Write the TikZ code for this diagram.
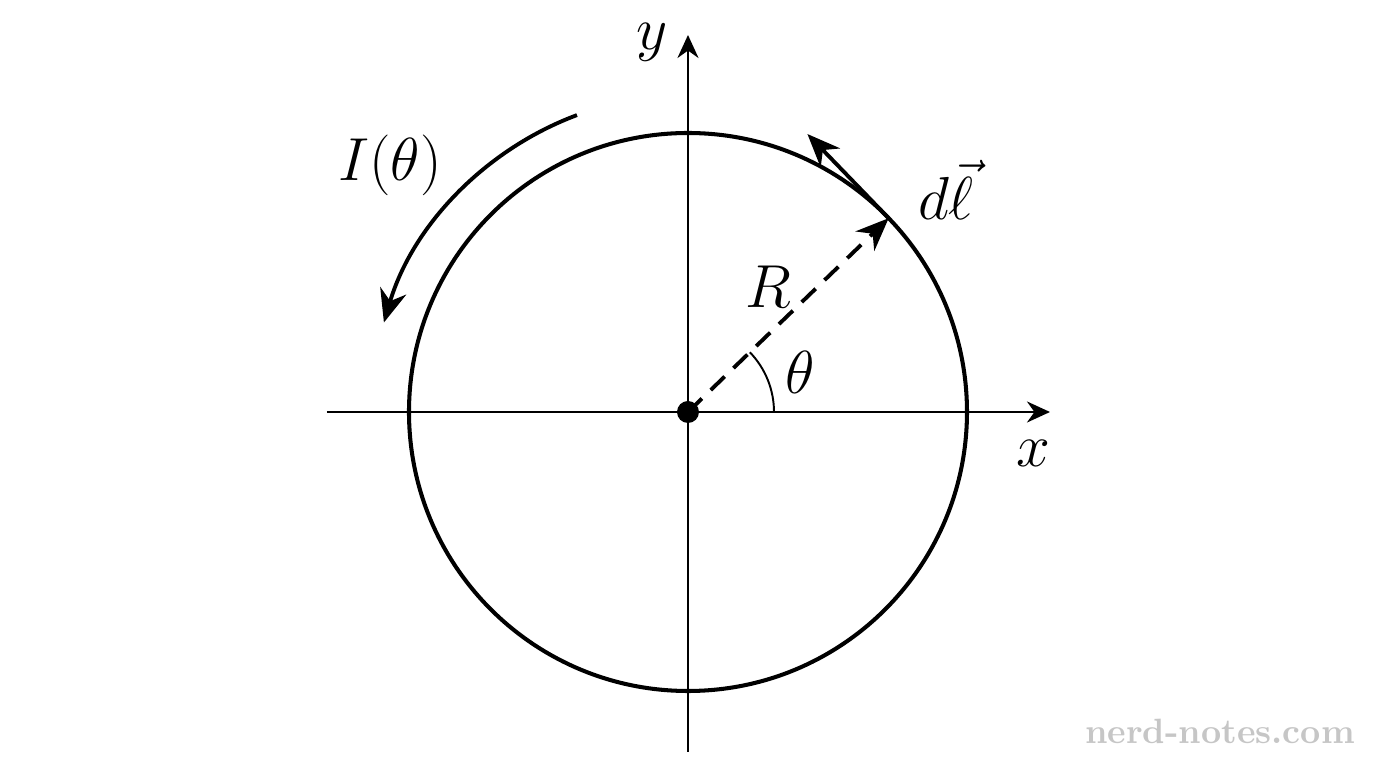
\documentclass[tikz,border=0pt]{standalone}
\usepackage{amsmath}
\usepackage{amssymb}
\usetikzlibrary{arrows.meta,calc,positioning}
\tikzset{
    axis/.style={line width=0.75pt,-{Stealth[length=2.3mm,width=2.1mm]}},
    vecarrow/.style={line width=1.1pt,-{Stealth[length=3.3mm,width=2.7mm]}},
    biglabel/.style={font=\fontsize{16}{19}\selectfont}
}

\begin{document}
\begin{tikzpicture}

    \useasboundingbox (-6.88,-3.56) rectangle (6.88,4.12);
    \def\R{2.79}

    % Points.
    \coordinate (O) at (0,0);
    \coordinate (P) at (44:\R);
    \coordinate (T) at ($(P)+(134:1.17)$);
    \coordinate (xs) at (-3.61,0);
    \coordinate (xe) at (3.62,0);
    \coordinate (ys) at (0,-3.40);
    \coordinate (ye) at (0,3.77);

    % Draw axes.
    \draw[axis] (xs) -- (xe);
    \draw[axis] (ys) -- (ye);
    \node[biglabel] (xlab) at (3.45,-0.41) {$x$};
    \node[biglabel] (ylab) at (-0.36,3.70) {$y$};

    % Draw loop.
    \draw[line width=1.15pt] (O) circle (\R);
    \fill (O) circle (0.11);

    % Draw radius and angle.
    \draw[vecarrow,dash pattern=on 5.5pt off 3.5pt] (O) -- (P);
    \node[biglabel] (Rlab) at (0.80,1.25) {$R$};
    \draw[line width=0.55pt] (0.86,0) arc (0:44:0.86);
    \node[biglabel] (thlab) at (1.12,0.40) {$\theta$};

    % Draw line element.
    \draw[vecarrow] (P) -- (T);
    \node[biglabel] (dllab) at (2.58,2.22) {$d\vec{\ell}$};

    % Draw current.
    \draw[vecarrow] (110.5:3.17) arc (110.5:163.6:3.17);
    \node[biglabel] (Ilab) at (-2.98,2.47) {$I(\theta)$};

    % Watermark.
    \node[gray!45,font=\fontsize{10}{12}\selectfont\bfseries] (wm) at (5.32,-3.19) {nerd-notes.com};

\end{tikzpicture}
\end{document}
